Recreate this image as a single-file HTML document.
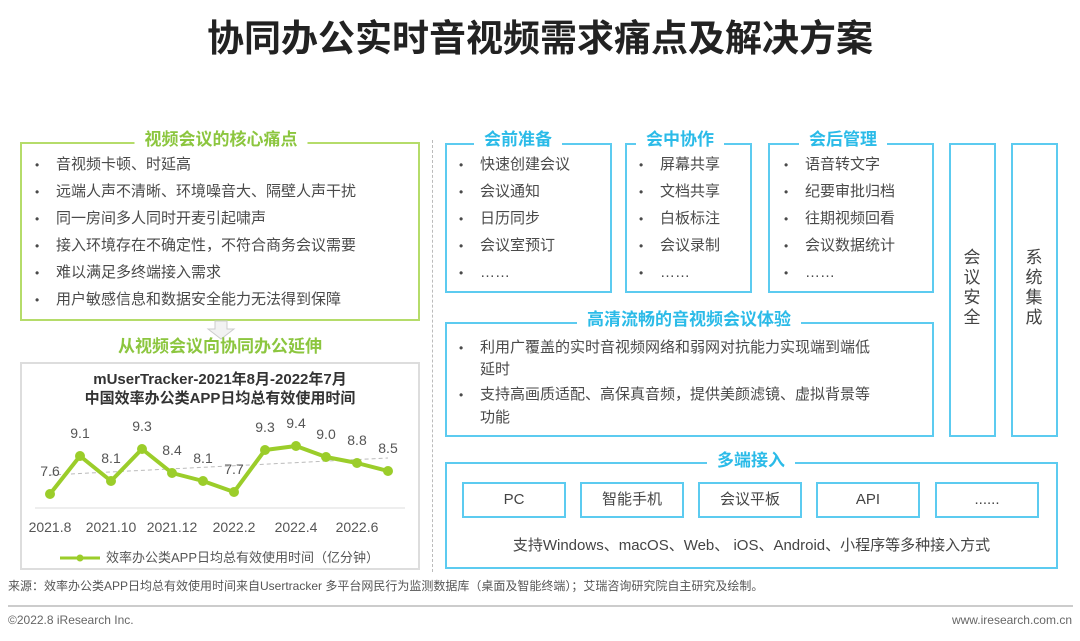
<!DOCTYPE html>
<html><head><meta charset="utf-8"><style>
*{margin:0;padding:0;box-sizing:border-box}
body{width:1080px;height:641px;background:#fff;position:relative;overflow:hidden;font-family:"Liberation Sans","Noto Sans CJK SC",sans-serif;color:#444}
.a{position:absolute;white-space:nowrap}
.gb{position:absolute;border:2px solid #b5dc6a}
.cb{position:absolute;border:2px solid #5ccbf0}
.gt{position:absolute;background:#fff;color:#8cc63f;font-weight:bold;font-size:17px;padding:0 10px;line-height:20px;transform:translateX(-50%)}
.ct{position:absolute;background:#fff;color:#2bbbe8;font-weight:bold;font-size:17px;padding:0 10px;line-height:20px;transform:translateX(-50%)}
.li{position:absolute;font-size:15px;line-height:20px;color:#4a4a4a;white-space:nowrap}
.li b{position:absolute;left:-21px;font-weight:normal;font-size:12px}
.vt{position:absolute;font-size:17px;color:#444;width:20px;line-height:20px;text-align:center}
.sb{position:absolute;top:482px;height:36px;width:104px;border:2px solid #5ccbf0;text-align:center;line-height:32px;font-size:15px}
</style></head><body>
<div class="a" style="left:0;width:1080px;text-align:center;top:15px;font-size:37px;font-weight:bold;color:#222;line-height:48px">协同办公实时音视频需求痛点及解决方案</div>

<div class="gb" style="left:20px;top:142px;width:400px;height:179px"></div>
<div class="gt" style="left:221px;top:130px">视频会议的核心痛点</div>
<div class="li" style="left:56px;top:155px"><b>•</b>音视频卡顿、时延高</div>
<div class="li" style="left:56px;top:182px"><b>•</b>远端人声不清晰、环境噪音大、隔壁人声干扰</div>
<div class="li" style="left:56px;top:209px"><b>•</b>同一房间多人同时开麦引起啸声</div>
<div class="li" style="left:56px;top:236px"><b>•</b>接入环境存在不确定性，不符合商务会议需要</div>
<div class="li" style="left:56px;top:263px"><b>•</b>难以满足多终端接入需求</div>
<div class="li" style="left:56px;top:290px"><b>•</b>用户敏感信息和数据安全能力无法得到保障</div>
<svg class="a" style="left:205px;top:320px" width="32" height="20"><path d="M10 1h12v8h7l-13 10L3 9h7z" fill="#f2f2f2" stroke="#ccc"/></svg>
<div class="a" style="left:0;width:440px;text-align:center;top:337px;font-size:17px;font-weight:bold;color:#8cc63f;line-height:20px">从视频会议向协同办公延伸</div>

<div class="a" style="left:20px;top:362px;width:400px;height:208px;border:2px solid #ddd"></div>
<div class="a" style="left:20px;width:400px;text-align:center;top:370px;font-size:15px;font-weight:bold;color:#333;line-height:19px">mUserTracker-2021年8月-2022年7月<br>中国效率办公类APP日均总有效使用时间</div>
<svg class="a" style="left:0;top:0" width="440" height="600">
<line x1="50" y1="475" x2="388" y2="458" stroke="#bbb" stroke-dasharray="4,3"/>
<line x1="35" y1="508" x2="405" y2="508" stroke="#ddd"/>
<polyline points="50,494 80,456 111,481 142,449 172,473 203,481 234,492 265,450 296,446 326,457 357,463 388,471" fill="none" stroke="#9bcd2a" stroke-width="4" stroke-linejoin="round"/>
<g fill="#9bcd2a"><circle cx="50" cy="494" r="5"/><circle cx="80" cy="456" r="5"/><circle cx="111" cy="481" r="5"/><circle cx="142" cy="449" r="5"/><circle cx="172" cy="473" r="5"/><circle cx="203" cy="481" r="5"/><circle cx="234" cy="492" r="5"/><circle cx="265" cy="450" r="5"/><circle cx="296" cy="446" r="5"/><circle cx="326" cy="457" r="5"/><circle cx="357" cy="463" r="5"/><circle cx="388" cy="471" r="5"/></g>
<g font-family="Liberation Sans" font-size="14" fill="#555" text-anchor="middle">
<text x="50" y="476">7.6</text><text x="80" y="438">9.1</text><text x="111" y="463">8.1</text><text x="142" y="431">9.3</text><text x="172" y="455">8.4</text><text x="203" y="463">8.1</text><text x="234" y="474">7.7</text><text x="265" y="432">9.3</text><text x="296" y="428">9.4</text><text x="326" y="439">9.0</text><text x="357" y="445">8.8</text><text x="388" y="453">8.5</text>
<text x="50" y="532">2021.8</text><text x="111" y="532">2021.10</text><text x="172" y="532">2021.12</text><text x="234" y="532">2022.2</text><text x="296" y="532">2022.4</text><text x="357" y="532">2022.6</text>
</g>
<line x1="60" y1="558" x2="100" y2="558" stroke="#9bcd2a" stroke-width="3"/><circle cx="80" cy="558" r="3.5" fill="#9bcd2a"/>
</svg>
<div class="a" style="left:106px;top:549px;font-size:13px;color:#555;line-height:18px">效率办公类APP日均总有效使用时间（亿分钟）</div>

<div class="a" style="left:432px;top:140px;height:432px;border-left:1px dashed #bbb"></div>

<div class="cb" style="left:445px;top:143px;width:167px;height:150px"></div>
<div class="ct" style="left:518px;top:130px">会前准备</div>
<div class="cb" style="left:625px;top:143px;width:127px;height:150px"></div>
<div class="ct" style="left:680px;top:130px">会中协作</div>
<div class="cb" style="left:768px;top:143px;width:166px;height:150px"></div>
<div class="ct" style="left:843px;top:130px">会后管理</div>
<div class="li" style="left:480px;top:155px"><b>•</b>快速创建会议</div>
<div class="li" style="left:480px;top:182px"><b>•</b>会议通知</div>
<div class="li" style="left:480px;top:209px"><b>•</b>日历同步</div>
<div class="li" style="left:480px;top:236px"><b>•</b>会议室预订</div>
<div class="li" style="left:480px;top:263px"><b>•</b>……</div>
<div class="li" style="left:660px;top:155px"><b>•</b>屏幕共享</div>
<div class="li" style="left:660px;top:182px"><b>•</b>文档共享</div>
<div class="li" style="left:660px;top:209px"><b>•</b>白板标注</div>
<div class="li" style="left:660px;top:236px"><b>•</b>会议录制</div>
<div class="li" style="left:660px;top:263px"><b>•</b>……</div>
<div class="li" style="left:805px;top:155px"><b>•</b>语音转文字</div>
<div class="li" style="left:805px;top:182px"><b>•</b>纪要审批归档</div>
<div class="li" style="left:805px;top:209px"><b>•</b>往期视频回看</div>
<div class="li" style="left:805px;top:236px"><b>•</b>会议数据统计</div>
<div class="li" style="left:805px;top:263px"><b>•</b>……</div>

<div class="cb" style="left:949px;top:143px;width:47px;height:294px"></div>
<div class="vt" style="left:962px;top:248px">会议安全</div>
<div class="cb" style="left:1011px;top:143px;width:47px;height:294px"></div>
<div class="vt" style="left:1024px;top:248px">系统集成</div>

<div class="cb" style="left:445px;top:322px;width:489px;height:115px"></div>
<div class="ct" style="left:689px;top:310px">高清流畅的音视频会议体验</div>
<div class="li" style="left:480px;top:338px"><b>•</b>利用广覆盖的实时音视频网络和弱网对抗能力实现端到端低</div>
<div class="li" style="left:480px;top:360px">延时</div>
<div class="li" style="left:480px;top:385px"><b>•</b>支持高画质适配、高保真音频，提供美颜滤镜、虚拟背景等</div>
<div class="li" style="left:480px;top:408px">功能</div>

<div class="cb" style="left:445px;top:462px;width:613px;height:107px"></div>
<div class="ct" style="left:751px;top:451px">多端接入</div>
<div class="sb" style="left:462px">PC</div>
<div class="sb" style="left:580px">智能手机</div>
<div class="sb" style="left:698px">会议平板</div>
<div class="sb" style="left:816px">API</div>
<div class="sb" style="left:935px">......</div>
<div class="a" style="left:445px;width:613px;text-align:center;top:536px;font-size:15px;line-height:20px;color:#444">支持Windows、macOS、Web、 iOS、Android、小程序等多种接入方式</div>

<div class="a" style="left:8px;top:578px;font-size:12px;color:#555;line-height:16px">来源：效率办公类APP日均总有效使用时间来自Usertracker 多平台网民行为监测数据库（桌面及智能终端）；艾瑞咨询研究院自主研究及绘制。</div>
<div class="a" style="left:8px;top:605px;width:1065px;border-top:2px solid #ccc"></div>
<div class="a" style="left:8px;top:612px;font-size:12px;color:#666;line-height:16px">©2022.8 iResearch Inc.</div>
<div class="a" style="right:8px;top:612px;font-size:12px;color:#666;line-height:16px">www.iresearch.com.cn</div>
</body></html>
